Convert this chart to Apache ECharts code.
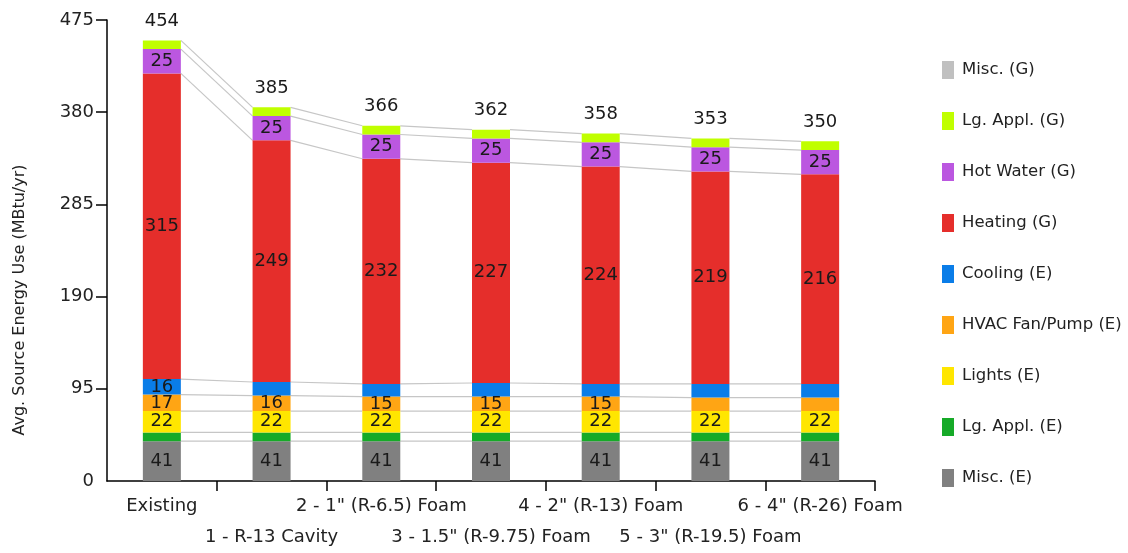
<!DOCTYPE html>
<html>
<head>
<meta charset="utf-8">
<title>Avg. Source Energy Use</title>
<script src="https://cdn.jsdelivr.net/npm/echarts@6/dist/echarts.min.js"></script>
<style>
  html, body { margin: 0; padding: 0; background: #fff; }
  #chart { width: 1128px; height: 553px; }
</style>
</head>
<body>
<div id="chart"></div>
<script>
// Package cases along the x axis
const categories = [
  'Existing',
  '1 - R-13 Cavity',
  '2 - 1" (R-6.5) Foam',
  '3 - 1.5" (R-9.75) Foam',
  '4 - 2" (R-13) Foam',
  '5 - 3" (R-19.5) Foam',
  '6 - 4" (R-26) Foam'
];

// End-use values, MBtu/yr (stacked bottom to top)
const miscE    = [41, 41, 41, 41, 41, 41, 41];
const lgApplE  = [9, 9, 9, 9, 9, 9, 9];
const lightsE  = [22, 22, 22, 22, 22, 22, 22];
const hvacE    = [17, 16, 15, 15, 15, 14, 14];
const coolingE = [16, 14, 13, 14, 13, 14, 14];
const heatingG = [315, 249, 232, 227, 224, 219, 216];
const hotWaterG = [25, 25, 25, 25, 25, 25, 25];
const lgApplG  = [9, 9, 9, 9, 9, 9, 9];
const miscG    = [0, 0, 0, 0, 0, 0, 0];

// y axis ticks
const yTicks = { min: 0, max: 475, interval: 95 };
const yTickMarks = [95, 190, 285, 380, 475];

const FONT = 'DejaVu Sans';
const BAR_W = 38;
const LABEL_MIN = 15;

const stackDefs = [
  { name: 'Misc. (E)',         data: miscE,     color: '#808080' },
  { name: 'Lg. Appl. (E)',     data: lgApplE,   color: '#16aa28' },
  { name: 'Lights (E)',        data: lightsE,   color: '#ffe600' },
  { name: 'HVAC Fan/Pump (E)', data: hvacE,     color: '#ffa514' },
  { name: 'Cooling (E)',       data: coolingE,  color: '#0a7de8' },
  { name: 'Heating (G)',       data: heatingG,  color: '#e52e2b' },
  { name: 'Hot Water (G)',     data: hotWaterG, color: '#bb57e0' },
  { name: 'Lg. Appl. (G)',     data: lgApplG,   color: '#c0ff00' },
  { name: 'Misc. (G)',         data: miscG,     color: '#c0c0c0' }
];

// cumulative tops of each segment, used for the connector lines and totals
const cumulative = [];
categories.forEach((_, i) => {
  let run = 0;
  cumulative[i] = stackDefs.map(s => (run += s.data[i]));
});
const totals = cumulative.map(c => c[c.length - 1]);

const barSeries = stackDefs.map((s, k) => {
  const isTop = k === stackDefs.length - 1;
  return {
    name: s.name,
    type: 'bar',
    stack: 'use',
    barWidth: BAR_W,
    z: 3,
    itemStyle: { color: s.color },
    data: s.data,
    label: isTop ? {
      show: true,
      position: 'top',
      distance: 10,
      fontFamily: FONT,
      fontSize: 18,
      color: '#1a1a1a',
      formatter: p => String(totals[p.dataIndex])
    } : {
      show: true,
      position: 'inside',
      fontFamily: FONT,
      fontSize: 18,
      color: '#1a1a1a',
      formatter: p => (p.value >= LABEL_MIN ? String(p.value) : '')
    }
  };
});

// thin lines joining each segment boundary between neighbouring bars
const connectorSeries = {
  name: 'connectors',
  type: 'custom',
  z: 1,
  silent: true,
  encode: { x: 0, y: 1 },
  data: categories.map((_, i) => [i, 0]),
  renderItem: (params, api) => {
    const i = api.value(0);
    if (i >= categories.length - 1) return null;
    const children = [];
    for (let lv = 0; lv < stackDefs.length - 1; lv++) {
      const a = api.coord([i, cumulative[i][lv]]);
      const b = api.coord([i + 1, cumulative[i + 1][lv]]);
      children.push({
        type: 'line',
        shape: { x1: a[0] + BAR_W / 2, y1: a[1], x2: b[0] - BAR_W / 2, y2: b[1] },
        style: { stroke: '#c6c6c6', lineWidth: 1.2 }
      });
    }
    return { type: 'group', children };
  }
};

const chart = echarts.init(document.getElementById('chart'));
chart.setOption({
  animation: false,
  backgroundColor: '#ffffff',
  grid: { left: 107, right: 253, top: 20, bottom: 70, containLabel: false },
  legend: {
    orient: 'vertical',
    left: 937,
    top: 56,
    itemWidth: 12,
    itemHeight: 18,
    itemGap: 33,
    icon: 'rect',
    data: stackDefs.map(s => s.name).reverse(),
    textStyle: { fontFamily: FONT, fontSize: 16.5, color: '#222', padding: [0, 0, 0, 3] },
    selectedMode: false
  },
  xAxis: {
    type: 'category',
    data: categories,
    axisLine: { lineStyle: { color: '#000', width: 1.5 } },
    axisTick: {
      show: true,
      length: 10,
      interval: (index) => index !== 0,
      lineStyle: { color: '#000', width: 1.5 }
    },
    axisLabel: {
      interval: 0,
      margin: 10,
      fontFamily: FONT,
      fontSize: 18,
      lineHeight: 31,
      color: '#222',
      formatter: (v, i) => (i % 2 === 1 ? '\n' + v : v)
    }
  },
  yAxis: {
    type: 'value',
    min: yTicks.min,
    max: yTicks.max,
    interval: yTicks.interval,
    axisLine: { show: true, lineStyle: { color: '#000', width: 1.5 } },
    axisTick: {
      show: true,
      length: 11,
      customValues: yTickMarks,
      lineStyle: { color: '#000', width: 1.5 }
    },
    splitLine: { show: false },
    axisLabel: { margin: 13, fontFamily: FONT, fontSize: 18, color: '#222' }
  },
  graphic: [{
    type: 'text',
    x: 20,
    y: 300,
    rotation: Math.PI / 2,
    style: {
      text: 'Avg. Source Energy Use (MBtu/yr)',
      fontFamily: FONT,
      fontSize: 16,
      fill: '#222',
      textAlign: 'center',
      textVerticalAlign: 'middle'
    }
  }],
  series: [connectorSeries].concat(barSeries)
});
</script>
</body>
</html>
